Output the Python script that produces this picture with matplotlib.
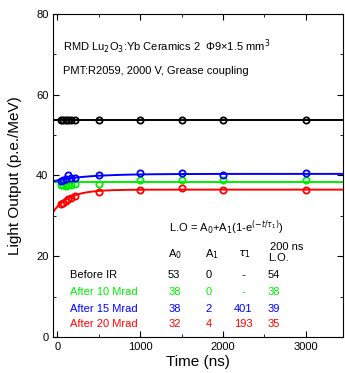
import numpy as np
from matplotlib import pyplot as plt

plt.rcParams['font.family'] = ['Liberation Sans', 'DejaVu Sans']

# measurement gate times (ns)
times = [40, 70, 100, 130, 160, 210, 500, 1000, 1500, 2000, 3000]
lo_before = [53.8, 53.8, 53.8, 53.8, 53.8, 53.8, 53.8, 53.8, 53.8, 53.8, 53.8]
lo_10 = [37.6, 37.6, 37.5, 37.6, 37.6, 37.9, 38.0, 38.9, 38.8, 38.8, 38.8]
lo_15 = [38.6, 39.0, 39.2, 40.2, 39.4, 39.4, 40.0, 40.5, 40.5, 40.2, 40.5]
lo_20 = [33.0, 33.2, 33.7, 34.3, 34.5, 34.8, 35.9, 36.3, 36.8, 36.5, 36.5]

colors = ['black', '#00ee00', 'blue', 'red']
series = [lo_before, lo_10, lo_15, lo_20]

# fit parameters used for drawn curves
fit_a0 = [53.8, 38.3, 38.8, 32.3]
fit_a1 = [0.0, 0.0, 1.6, 4.2]
fit_tau = [1.0, 1.0, 401.0, 193.0]

# table shown on the plot
row_names = ['Before IR', 'After 10 Mrad', 'After 15 Mrad', 'After 20 Mrad']
tab_a0 = ['53', '38', '38', '32']
tab_a1 = ['0', '0', '2', '4']
tab_tau = ['-', '-', '401', '193']
tab_lo = ['54', '38', '39', '35']

fig = plt.figure(figsize=(3.45, 3.73), dpi=100)
ax = fig.add_axes([0.1545, 0.0965, 0.84, 0.866])

t = np.linspace(-50, 3450, 400)
for vals, c, a0, a1, tau in zip(series, colors, fit_a0, fit_a1, fit_tau):
    ax.plot(t, a0 + a1 * (1 - np.exp(-t / tau)), color=c, linewidth=1.4)
    ax.plot(times, vals, 'o', mfc='none', mec=c, mew=1.3, ms=4.5)

ax.set_xlim(-50, 3450)
ax.set_ylim(0, 80)
ax.set_xticks([0, 1000, 2000, 3000])
ax.set_xticks([500, 1500, 2500], minor=True)
ax.set_yticks([0, 20, 40, 60, 80])
ax.set_yticks([10, 30, 50, 70], minor=True)
ax.tick_params(which='both', direction='in', top=True, right=True, labelsize=8)
ax.tick_params(which='major', length=4)
ax.tick_params(which='minor', length=2)
ax.set_xlabel('Time (ns)', fontsize=11, labelpad=2)
ax.set_ylabel('Light Output (p.e./MeV)', fontsize=11, labelpad=10)

ax.text(0.035, 0.885, 'RMD Lu$_2$O$_3$:Yb Ceramics 2  Φ9×1.5 mm$^3$',
        transform=ax.transAxes, fontsize=8)
ax.text(0.035, 0.815, 'PMT:R2059, 2000 V, Grease coupling',
        transform=ax.transAxes, fontsize=8)

kw = dict(transform=ax.transAxes, fontsize=8, va='center')
ax.text(0.40, 0.339, 'L.O = A$_0$+A$_1$(1-e$^{(-t/\\tau_1)}$)', **kw)
ax.text(0.396, 0.258, 'A$_0$', **kw)
ax.text(0.523, 0.258, 'A$_1$', **kw)
ax.text(0.636, 0.258, '$\\tau_1$', **kw)
ax.text(0.748, 0.28, '200 ns', **kw)
ax.text(0.741, 0.245, 'L.O.', **kw)

row_y = [0.193, 0.14, 0.088, 0.04]
for i, name in enumerate(row_names):
    c = colors[i]
    y = row_y[i]
    ax.text(0.058, y, name, color=c, **kw)
    ax.text(0.396, y, tab_a0[i], color=c, **kw)
    ax.text(0.537, y, tab_a1[i], color=c, ha='center', **kw)
    ax.text(0.655, y, tab_tau[i], color=c, ha='center', **kw)
    ax.text(0.741, y, tab_lo[i], color=c, **kw)

fig.savefig('out.png', dpi=100)
